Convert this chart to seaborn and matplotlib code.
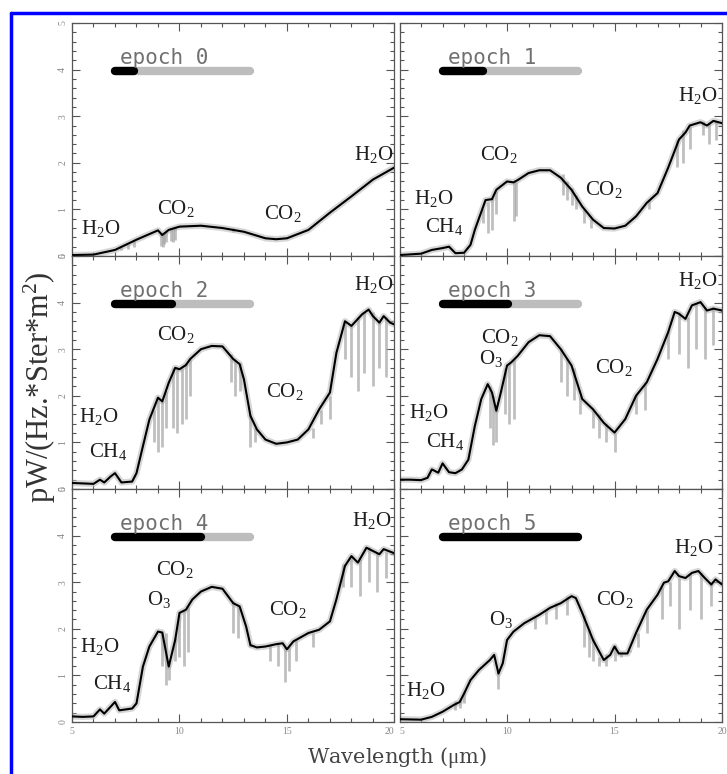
import numpy as np
import pandas as pd
import matplotlib
matplotlib.use("Agg")
import matplotlib.pyplot as plt
from matplotlib.lines import Line2D
from matplotlib.ticker import MultipleLocator
import seaborn as sns

# ---------------- data ----------------
e0_x = [5, 6, 7, 8, 8.5, 9, 9.2, 9.5, 10, 11, 12, 13, 14, 14.5, 15, 16, 17, 18, 19, 20]
e0_y = [0.02, 0.03, 0.13, 0.35, 0.45, 0.55, 0.45, 0.56, 0.63, 0.65, 0.6, 0.52, 0.38, 0.36, 0.38, 0.56, 0.93, 1.28, 1.64, 1.9]

e1_x = [5, 6, 6.5, 7, 7.3, 7.6, 8, 8.3, 8.5, 9, 9.3, 9.5, 10, 10.3, 10.5, 11, 11.5, 12, 12.5, 13, 13.5, 14,
        14.5, 15, 15.5, 16, 16.5, 17, 17.5, 18, 18.3, 18.5, 19, 19.3, 19.6, 20]
e1_y = [0.02, 0.05, 0.13, 0.17, 0.2, 0.06, 0.07, 0.24, 0.56, 1.2, 1.22, 1.42, 1.6, 1.58, 1.63, 1.78, 1.84, 1.84,
        1.68, 1.42, 1.06, 0.78, 0.6, 0.59, 0.65, 0.85, 1.14, 1.35, 1.9, 2.5, 2.65, 2.8, 2.87, 2.8, 2.9, 2.85]

e2_x = [5, 5.5, 6, 6.3, 6.5, 6.8, 7, 7.3, 7.8, 8, 8.3, 8.6, 9, 9.2, 9.5, 9.8, 10, 10.3, 10.5, 11, 11.5, 12,
        12.5, 12.8, 13, 13.3, 13.6, 14, 14.5, 15, 15.5, 16, 16.5, 17, 17.3, 17.7, 18, 18.5, 18.8, 19, 19.3,
        19.5, 19.8, 20]
e2_y = [0.13, 0.12, 0.11, 0.2, 0.14, 0.27, 0.34, 0.14, 0.16, 0.34, 0.92, 1.49, 1.96, 1.88, 2.28, 2.6, 2.57,
        2.66, 2.79, 3.0, 3.07, 3.06, 2.79, 2.68, 2.35, 1.57, 1.28, 1.06, 0.97, 1.0, 1.06, 1.28, 1.71, 2.07,
        2.92, 3.6, 3.5, 3.75, 3.85, 3.71, 3.57, 3.71, 3.57, 3.53]

e3_x = [5, 5.5, 6, 6.3, 6.5, 6.8, 7, 7.3, 7.6, 7.9, 8.2, 8.5, 8.8, 9.1, 9.3, 9.5, 9.7, 10, 10.2, 10.5, 11,
        11.5, 12, 12.5, 13, 13.5, 14, 14.5, 15, 15.5, 16, 16.5, 17, 17.5, 17.8, 18, 18.3, 18.6, 19, 19.3,
        19.6, 20]
e3_y = [0.2, 0.2, 0.19, 0.24, 0.42, 0.35, 0.55, 0.36, 0.34, 0.42, 0.63, 1.35, 1.93, 2.25, 2.07, 1.68, 2.05,
        2.65, 2.72, 2.86, 3.15, 3.3, 3.28, 3.0, 2.65, 1.93, 1.71, 1.42, 1.21, 1.5, 2.0, 2.29, 2.79, 3.37,
        3.8, 3.76, 3.65, 3.94, 4.01, 3.83, 3.87, 3.83]

e4_x = [5, 5.5, 6, 6.3, 6.5, 6.8, 7, 7.2, 7.8, 8, 8.3, 8.6, 9, 9.2, 9.5, 9.8, 10, 10.3, 10.6, 11, 11.5, 12,
        12.5, 12.8, 13.1, 13.3, 13.6, 14, 14.5, 14.8, 15, 15.3, 16, 16.5, 17, 17.3, 17.7, 18, 18.3, 18.7,
        19, 19.3, 19.5, 20]
e4_y = [0.12, 0.11, 0.12, 0.27, 0.18, 0.33, 0.43, 0.25, 0.29, 0.4, 1.19, 1.62, 1.94, 1.92, 1.19, 1.76, 2.34,
        2.41, 2.63, 2.8, 2.9, 2.86, 2.55, 2.48, 2.05, 1.65, 1.6, 1.62, 1.67, 1.69, 1.56, 1.73, 1.91, 1.98,
        2.16, 2.63, 3.35, 3.56, 3.42, 3.74, 3.67, 3.6, 3.71, 3.62]

e5_x = [5, 6, 6.5, 7, 7.5, 7.8, 8, 8.3, 8.7, 9.2, 9.4, 9.6, 9.8, 10, 10.3, 10.8, 11.5, 12, 12.5, 13, 13.2,
        13.5, 14, 14.5, 14.8, 15, 15.2, 15.6, 16, 16.5, 17, 17.3, 17.5, 17.8, 18, 18.3, 18.6, 18.9, 19.2,
        19.5, 19.7, 20]
e5_y = [0.06, 0.05, 0.11, 0.22, 0.36, 0.43, 0.61, 0.9, 1.12, 1.33, 1.44, 1.04, 1.26, 1.76, 1.94, 2.12, 2.3,
        2.45, 2.55, 2.7, 2.66, 2.34, 1.76, 1.33, 1.44, 1.62, 1.47, 1.47, 1.91, 2.41, 2.73, 2.99, 3.02, 3.24,
        3.13, 3.09, 3.2, 3.24, 3.09, 2.95, 3.06, 2.95]

# grey high-resolution absorption spikes: position, lower end, upper end
s0_x = [7.3, 7.6, 7.9, 9.15, 9.22, 9.3, 9.38, 9.62, 9.7, 9.78, 12.5]
s0_lo = [0.12, 0.15, 0.2, 0.22, 0.2, 0.25, 0.3, 0.32, 0.3, 0.35, 0.52]
s0_hi = [0.2, 0.25, 0.32, 0.52, 0.5, 0.52, 0.55, 0.6, 0.62, 0.62, 0.6]

s1_x = [8.9, 9.1, 9.3, 9.5, 10.3, 10.4, 12.6, 12.8, 13.0, 13.2, 13.6, 13.9, 16.6, 17.9, 18.2, 18.5, 19.1, 19.4, 19.7]
s1_lo = [0.7, 0.5, 0.55, 0.9, 0.75, 0.85, 1.3, 1.2, 1.1, 1.0, 0.7, 0.6, 1.0, 1.9, 2.0, 2.3, 2.6, 2.4, 2.5]
s1_hi = [1.0, 1.15, 1.25, 1.4, 1.6, 1.58, 1.75, 1.6, 1.45, 1.3, 1.0, 0.8, 1.2, 2.5, 2.7, 2.8, 2.9, 2.85, 2.9]

s2_x = [8.8, 9.0, 9.2, 9.35, 9.7, 9.9, 10.1, 10.3, 10.5, 12.4, 12.6, 12.8, 13.3, 13.5, 16.2, 16.6, 17.0,
        17.7, 18.0, 18.3, 18.6, 19.0, 19.3, 19.6]
s2_lo = [1.0, 0.8, 0.9, 1.3, 1.3, 1.2, 1.4, 1.5, 2.0, 2.3, 2.0, 2.1, 0.9, 1.0, 1.1, 1.4, 1.5, 2.8, 2.4, 2.1,
         2.5, 2.2, 2.6, 2.4]
s2_hi = [1.7, 1.95, 1.9, 2.1, 2.6, 2.6, 2.6, 2.7, 2.8, 2.9, 2.8, 2.7, 1.6, 1.3, 1.3, 1.7, 2.0, 3.6, 3.5, 3.7,
         3.8, 3.8, 3.6, 3.7]

s3_x = [9.2, 9.35, 9.5, 9.9, 10.1, 10.3, 12.5, 12.8, 13.1, 13.4, 14.0, 14.3, 14.6, 15.0, 16.0, 16.4, 17.5,
        18.0, 18.4, 18.8, 19.2, 19.6]
s3_lo = [1.3, 0.95, 1.0, 1.6, 1.4, 1.5, 2.3, 2.0, 1.9, 1.6, 1.3, 1.1, 1.0, 0.8, 1.6, 1.7, 2.8, 2.9, 2.6,
         3.0, 2.8, 3.1]
s3_hi = [2.2, 2.0, 1.8, 2.6, 2.7, 2.8, 3.0, 2.8, 2.6, 2.0, 1.7, 1.6, 1.4, 1.2, 2.0, 2.3, 3.4, 3.8, 3.7, 4.0,
         3.9, 3.9]

s4_x = [9.2, 9.35, 9.5, 9.8, 10.0, 10.2, 10.4, 12.5, 12.7, 13.3, 14.2, 14.6, 14.9, 15.1, 15.4, 16.2, 17.6,
        18.0, 18.4, 18.8, 19.2, 19.6]
s4_lo = [1.2, 0.8, 0.9, 1.3, 1.4, 1.2, 1.5, 1.9, 1.8, 1.6, 1.3, 1.2, 0.85, 1.1, 1.3, 1.6, 2.9, 2.9, 2.7,
         3.0, 2.8, 3.1]
s4_hi = [1.9, 1.9, 1.3, 1.8, 2.3, 2.4, 2.5, 2.6, 2.5, 1.7, 1.65, 1.68, 1.6, 1.6, 1.75, 1.9, 3.4, 3.55, 3.5,
         3.75, 3.65, 3.65]

s5_x = [7.6, 7.8, 8.0, 9.6, 11.3, 11.8, 12.3, 12.8, 13.6, 13.8, 14.0, 14.3, 14.6, 15.0, 15.3, 15.7, 16.1,
        16.5, 17.2, 17.6, 18.0, 18.5, 19.0, 19.5]
s5_lo = [0.25, 0.3, 0.4, 0.7, 2.0, 2.1, 2.2, 2.3, 1.6, 1.4, 1.3, 1.2, 1.2, 1.3, 1.4, 1.5, 1.6, 1.9, 2.2, 2.5,
         2.0, 2.4, 2.2, 2.5]
s5_hi = [0.45, 0.5, 0.65, 1.1, 2.25, 2.4, 2.55, 2.7, 2.3, 2.0, 1.8, 1.4, 1.45, 1.65, 1.5, 1.55, 1.9, 2.4,
         2.9, 3.0, 3.1, 3.2, 3.2, 3.0]

epoch_labels = ["epoch 0", "epoch 1", "epoch 2", "epoch 3", "epoch 4", "epoch 5"]
bar_start = 7.0
bar_end = 13.3
bar_progress = [7.9, 8.9, 9.65, 10.05, 11.0, 13.3]

# molecule annotations: (text, x, y)
ann0 = [("H$_2$O", 6.35, 0.58), ("CO$_2$", 9.85, 1.03), ("CO$_2$", 14.8, 0.92), ("H$_2$O", 19.05, 2.18)]
ann1 = [("H$_2$O", 6.6, 1.24), ("CH$_4$", 7.05, 0.63), ("CO$_2$", 9.6, 2.18), ("CO$_2$", 14.5, 1.42),
        ("H$_2$O", 18.85, 3.44)]
ann2 = [("H$_2$O", 6.25, 1.56), ("CH$_4$", 6.7, 0.81), ("CO$_2$", 9.85, 3.32), ("CO$_2$", 14.9, 2.1),
        ("H$_2$O", 19.05, 4.39)]
ann3 = [("H$_2$O", 6.35, 1.64), ("CH$_4$", 7.1, 1.03), ("CO$_2$", 9.65, 3.26), ("O$_3$", 9.25, 2.79),
        ("CO$_2$", 14.95, 2.61), ("H$_2$O", 18.85, 4.48)]
ann4 = [("H$_2$O", 6.3, 1.62), ("CH$_4$", 6.85, 0.83), ("CO$_2$", 9.8, 3.27), ("O$_3$", 9.05, 2.63),
        ("CO$_2$", 15.05, 2.41), ("H$_2$O", 18.95, 4.32)]
ann5 = [("H$_2$O", 6.2, 0.68), ("O$_3$", 9.7, 2.19), ("CO$_2$", 15.0, 2.63), ("H$_2$O", 18.7, 3.74)]

lines = [(e0_x, e0_y), (e1_x, e1_y), (e2_x, e2_y), (e3_x, e3_y), (e4_x, e4_y), (e5_x, e5_y)]
spikes = [(s0_x, s0_lo, s0_hi), (s1_x, s1_lo, s1_hi), (s2_x, s2_lo, s2_hi),
          (s3_x, s3_lo, s3_hi), (s4_x, s4_lo, s4_hi), (s5_x, s5_lo, s5_hi)]
anns = [ann0, ann1, ann2, ann3, ann4, ann5]

# ---------------- plot ----------------
sns.set_style("ticks")
plt.rcParams["font.family"] = ["Liberation Serif", "DejaVu Serif"]
plt.rcParams["mathtext.fontset"] = "custom"
plt.rcParams["mathtext.rm"] = "Liberation Serif"
plt.rcParams["mathtext.it"] = "Liberation Serif:italic"
plt.rcParams["mathtext.default"] = "rm"

fig, axes = plt.subplots(3, 2, figsize=(7.27, 7.74), dpi=100, sharex=True, sharey=True,
                         gridspec_kw=dict(left=72 / 727, right=722 / 727, top=1 - 23 / 774,
                                          bottom=1 - 722 / 774, wspace=0.016, hspace=0.0))
fig.patch.set_facecolor("white")

for i, ax in enumerate(axes.flat):
    ax.set_facecolor("white")
    lx, ly = lines[i]
    sx, slo, shi = spikes[i]
    df = pd.DataFrame({"x": lx, "y": ly})
    # blurred grey underlay (high-resolution spectrum)
    sns.lineplot(data=df, x="x", y="y", ax=ax, color="#b5b5b5", lw=4.5, alpha=0.55, sort=False,
                 estimator=None, zorder=1)
    ax.vlines(sx, slo, shi, colors="#a5a5a5", lw=2.0, alpha=0.7, zorder=1.5)
    # smoothed spectrum
    sns.lineplot(data=df, x="x", y="y", ax=ax, color="black", lw=1.5, sort=False,
                 estimator=None, zorder=3)

    # epoch bar
    ax.plot([bar_start, bar_end], [3.96, 3.96], color="#bdbdbd", lw=6, solid_capstyle="round", zorder=4)
    ax.plot([bar_start, bar_progress[i]], [3.96, 3.96], color="black", lw=6, solid_capstyle="round", zorder=5)
    ax.text(9.3, 4.24, epoch_labels[i], ha="center", va="center", fontsize=15,
            family="DejaVu Sans Mono", color="#707070", zorder=6)

    for txt, tx, ty in anns[i]:
        ax.text(tx, ty, txt, ha="center", va="center", fontsize=15, color="#1e1e1e", zorder=6)

    ax.set_xlim(5, 20)
    ax.set_ylim(0, 5)
    ax.set_xticks([5, 10, 15, 20])
    ax.set_yticks([0, 1, 2, 3, 4, 5])
    ax.xaxis.set_minor_locator(MultipleLocator(1))
    ax.yaxis.set_minor_locator(MultipleLocator(0.2))
    ax.tick_params(which="both", direction="in", top=True, right=True, color="#555555",
                   labelsize=7, labelcolor="#888888", width=0.8)
    ax.tick_params(which="major", length=6)
    ax.tick_params(which="minor", length=3)
    for sp in ax.spines.values():
        sp.set_color("#555555")
        sp.set_linewidth(0.9)
    ax.set_xlabel("")
    ax.set_ylabel("")

fig.canvas.draw()
for i, ax in enumerate(axes.flat):
    if i % 2 == 0:
        for lab in ax.get_yticklabels():
            lab.set_rotation(90)
            lab.set_va("center")
    if i == 4:
        for lab in ax.get_xticklabels():
            if lab.get_text() == "20":
                lab.set_ha("right")
    if i == 5:
        for lab in ax.get_xticklabels():
            if lab.get_text() == "5":
                lab.set_ha("left")

fig.text(0.055, 0.5, "pW/(Hz.*Ster*m$^2$)", rotation=90, ha="center", va="center",
         fontsize=22, color="#333333")
fig.text(0.546, 0.021, "Wavelength ($\\mu$m)", ha="center", va="center",
         fontsize=15, color="#444444", family="DejaVu Serif")

# blue frame
fig.add_artist(Line2D([11 / 727, 11 / 727], [0, 1 - 13 / 774], color="#0000ff", lw=2.5,
                      transform=fig.transFigure))
fig.add_artist(Line2D([11 / 727, 1], [1 - 13 / 774, 1 - 13 / 774], color="#0000ff", lw=2.5,
                      transform=fig.transFigure))

fig.savefig("out.png", dpi=100, facecolor="white")
